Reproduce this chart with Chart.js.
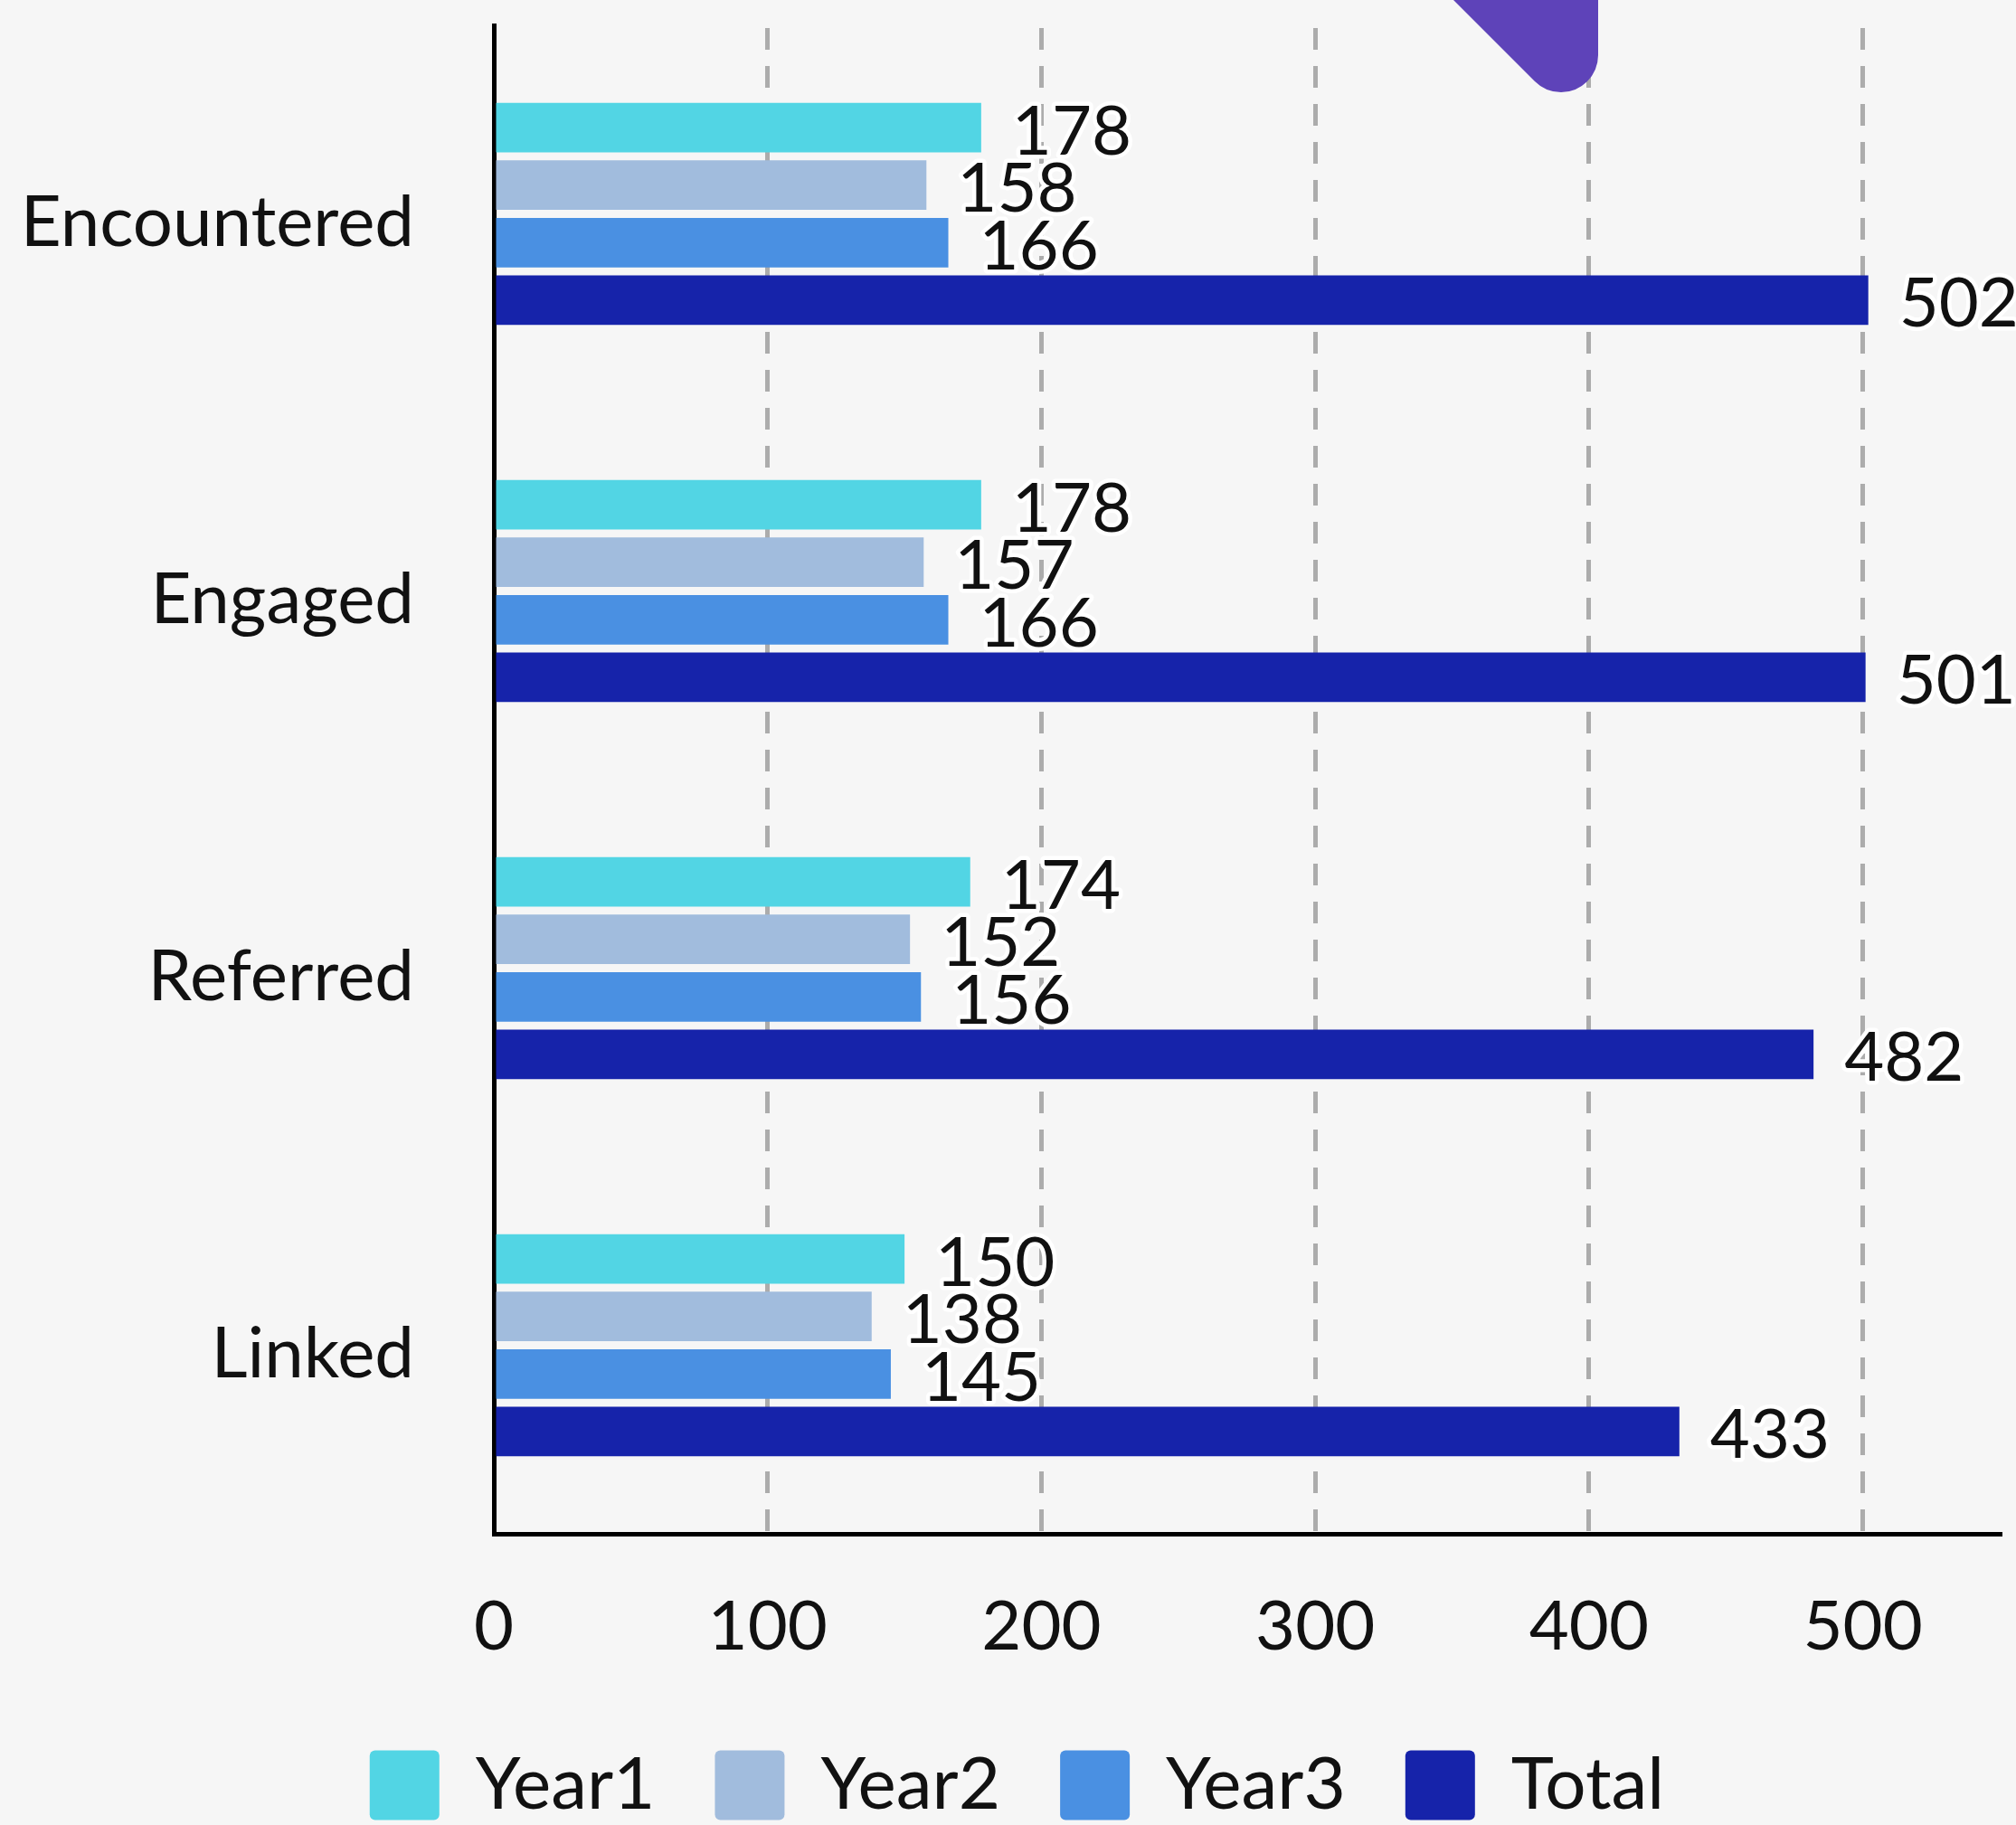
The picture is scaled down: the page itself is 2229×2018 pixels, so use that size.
<!DOCTYPE html>
<html>
<head>
<meta charset="utf-8">
<script src="https://cdn.jsdelivr.net/npm/chart.js@4/dist/chart.umd.min.js"></script>
<style>
html, body { margin: 0; padding: 0; background: #f6f6f6; }
</style>
</head>
<body>
<canvas id="myChart" width="2229" height="2018"></canvas>
<script>
const categories = ['Encountered', 'Engaged', 'Referred', 'Linked'];
const seriesNames = ['Year1', 'Year2', 'Year3', 'Total'];
const year1 = [178, 178, 174, 150];
const year2 = [158, 157, 152, 138];
const year3 = [166, 166, 156, 145];
const total = [502, 501, 482, 433];
const xTicks = [0, 100, 200, 300, 400, 500];

const colors = ['#52d5e4', '#a1bcdd', '#4a90e2', '#1623aa'];
const FONT = 'Lato';

// white-outlined value labels at the bar ends
const valueLabels = {
    id: 'valueLabels',
    afterDatasetsDraw(chart) {
        const ctx = chart.ctx;
        ctx.save();
        ctx.font = '76px ' + FONT;
        ctx.textBaseline = 'middle';
        ctx.textAlign = 'left';
        ctx.lineJoin = 'round';
        chart.data.datasets.forEach((ds, i) => {
            chart.getDatasetMeta(i).data.forEach((bar, j) => {
                const txt = String(ds.data[j]);
                const x = bar.x + 34, y = bar.y + 5;
                ctx.strokeStyle = '#ffffff';
                ctx.lineWidth = 9;
                ctx.strokeText(txt, x, y);
                ctx.fillStyle = '#111111';
                ctx.fillText(txt, x, y);
            });
        });
        ctx.restore();
    }
};

// purple corner shape peeking in at the top
const cornerShape = {
    id: 'cornerShape',
    beforeDraw(chart) {
        // nudge legend a little, like the original
        chart.legend.top += 6;
        chart.legend.bottom += 6;
        chart.legend.left += 19;
        chart.legend.right += 19;
    },
    afterDraw(chart) {
        const ctx = chart.ctx;
        ctx.save();
        ctx.fillStyle = '#5e43b9';
        ctx.beginPath();
        ctx.moveTo(1597, -10);
        ctx.lineTo(1767, -10);
        ctx.lineTo(1767, 61);
        ctx.arc(1726, 61, 41, 0, Math.PI * 0.75);
        ctx.closePath();
        ctx.fill();
        ctx.restore();
    }
};

const ctx = document.getElementById('myChart').getContext('2d');
const myChart = new Chart(ctx, {
    type: 'bar',
    data: {
        labels: categories,
        datasets: [year1, year2, year3, total].map((vals, i) => ({
            label: seriesNames[i],
            data: vals,
            backgroundColor: colors[i],
            borderWidth: 0,
            categoryPercentage: 0.61,
            barPercentage: 0.86
        }))
    },
    options: {
        indexAxis: 'y',
        responsive: false,
        animation: false,
        layout: { padding: { top: 28, right: 18, left: 0, bottom: 0 } },
        scales: {
            x: {
                min: 0,
                max: 550,
                afterBuildTicks: (scale) => { scale.ticks = xTicks.map(v => ({ value: v })); },
                afterFit: (scale) => { scale.height = 166; },
                ticks: {
                    font: { family: FONT, size: 76 },
                    color: '#111111',
                    padding: 58
                },
                grid: {
                    drawTicks: false,
                    lineWidth: 5,
                    color: (c) => (c.tick && c.tick.value === 0) ? 'rgba(0,0,0,0)' : '#acacac'
                },
                border: { display: true, color: '#000000', width: 5, dash: [24, 18], dashOffset: -3 }
            },
            y: {
                afterFit: (scale) => {
                    scale.width = 546;
                    scale.paddingTop = 0;
                    scale.paddingBottom = 0;
                },
                ticks: {
                    font: { family: FONT, size: 78 },
                    color: '#111111',
                    padding: 88,
                    labelOffset: 10
                },
                grid: { display: false, drawTicks: false },
                border: { display: true, color: '#000000', width: 5 }
            }
        },
        plugins: {
            legend: {
                position: 'bottom',
                labels: {
                    font: { family: FONT, size: 80 },
                    color: '#111111',
                    boxWidth: 77,
                    boxHeight: 77,
                    padding: 66,
                    useBorderRadius: true,
                    borderRadius: 6
                }
            },
            tooltip: { enabled: false }
        }
    },
    plugins: [valueLabels, cornerShape]
});
</script>
</body>
</html>
